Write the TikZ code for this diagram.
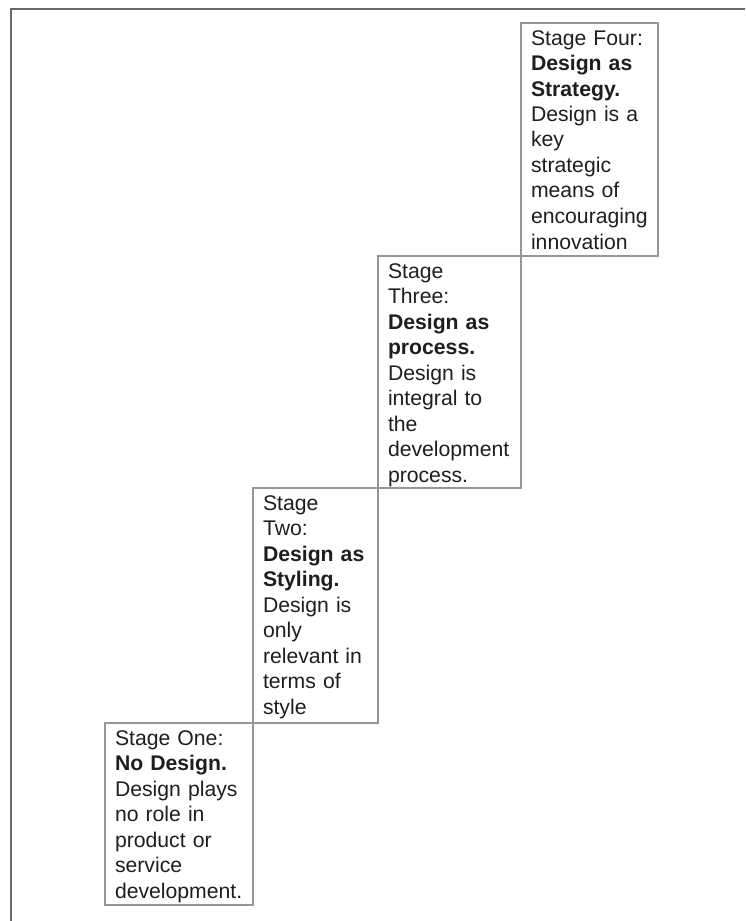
\documentclass[tikz,border=0pt]{standalone}
\usepackage{fontspec}
\setmainfont{Liberation Sans}
\usetikzlibrary{positioning}
\definecolor{framegray}{RGB}{105,105,105}
\definecolor{boxgray}{RGB}{150,150,150}
\definecolor{inkgray}{RGB}{30,30,30}

\begin{document}
\begin{tikzpicture}[x=0.5pt, y=-0.5pt,
        stagebox/.style={draw=boxgray, line width=0.6pt, outer sep=0pt, text=inkgray, align=left,
            inner xsep=5pt, inner ysep=3.5pt, text height=7.5pt,
            font=\fontsize{10.6}{12.75}\selectfont}]
        \useasboundingbox (0,0) rectangle (745,921);
        % frame, top and left edges only
        \coordinate (tr) at (745,9);
        \coordinate (tl) at (11,9);
        \coordinate (bl) at (11,921);
        \draw[framegray, line width=1pt] (tr) -- (tl) -- (bl);
        % stage one
        \node[stagebox, anchor=north west, text width=64pt, text depth=76.5pt] (one) at (105,723)
            {Stage One:\\ \textbf{No Design.}\\ Design plays\\ no role in\\ product or\\ service\\ development.};
        % stage two
        \node[stagebox, anchor=south west, text width=52.5pt, text depth=103pt] (two) at (one.north east)
            {Stage\\ Two:\\ \textbf{Design as}\\ \textbf{Styling.}\\ Design is\\ only\\ relevant in\\ terms of\\ style};
        % stage three
        \node[stagebox, anchor=south west, text width=61.5pt, text depth=101.5pt] (three) at (two.north east)
            {Stage\\ Three:\\ \textbf{Design as}\\ \textbf{process.}\\ Design is\\ integral to\\ the\\ development\\ process.};
        % stage four
        \node[stagebox, anchor=south west, text width=58.5pt, text depth=102pt] (four) at (three.north east)
            {Stage Four:\\ \textbf{Design as}\\ \textbf{Strategy.}\\ Design is a\\ key\\ strategic\\ means of\\ encouraging\\ innovation};
    \end{tikzpicture}
\end{document}
